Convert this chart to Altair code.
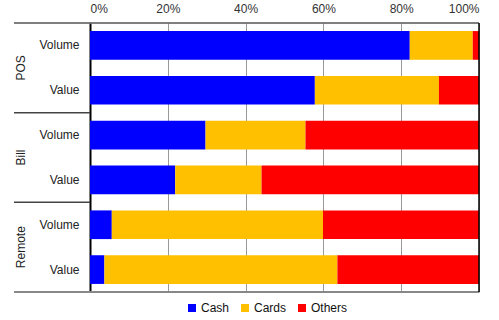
import altair as alt
import pandas as pd

# Share of each payment method (percent) per channel and measure
groups = ["POS", "POS", "Bill", "Bill", "Remote", "Remote"]
measures = ["Volume", "Value", "Volume", "Value", "Volume", "Value"]
cash = [82.2, 57.8, 29.7, 21.9, 5.6, 3.7]
cards = [16.2, 31.9, 25.7, 22.2, 54.3, 59.9]
others = [1.6, 10.3, 44.6, 55.9, 40.1, 36.4]

methods = ["Cash", "Cards", "Others"]
colors = ["#0000FF", "#FFC000", "#FF0000"]
x_ticks = [0, 0.2, 0.4, 0.6, 0.8, 1.0]

# Channel groups and the slot positions of their labels / dividers
group_names = ["POS", "Bill", "Remote"]
group_centres = [0.5, 1.5, 2.5]
dividers = [1, 2]

FONT = "Liberation Sans"
W, H = 389, 269

keys = [f"{g}|{m}" for g, m in zip(groups, measures)]

rows = []
for i, k in enumerate(keys):
    for j, (name, vals) in enumerate(zip(methods, [cash, cards, others])):
        rows.append({"key": k, "method": name, "share": vals[i], "order": j})
df = pd.DataFrame(rows)

group_df = pd.DataFrame({"group": group_names, "pos": group_centres})
div_df = pd.DataFrame({"pos": dividers})

y_scale = alt.Scale(domain=keys, paddingInner=0.36, paddingOuter=0.18)
slot_scale = alt.Scale(domain=[0, len(group_names)], reverse=True, nice=False, zero=False)

bars = alt.Chart(df).mark_bar().encode(
    y=alt.Y("key:N", scale=y_scale, title=None,
            axis=alt.Axis(labelExpr="split(datum.label, '|')[1]",
                          ticks=False, domainColor="#000000", domainWidth=2,
                          labelPadding=11, labelFontSize=12, labelFont=FONT,
                          labelColor="#222222")),
    x=alt.X("share:Q", stack="normalize", title=None,
            scale=alt.Scale(domain=[0, 1], nice=False),
            axis=alt.Axis(orient="top", values=x_ticks, format=".0%",
                          grid=True, gridColor="#999999", domain=False,
                          ticks=False, labelPadding=8, labelFontSize=12,
                          labelFont=FONT, labelColor="#333333")),
    color=alt.Color("method:N", scale=alt.Scale(domain=methods, range=colors),
                    legend=alt.Legend(orient="none", legendX=96, legendY=279,
                                      direction="horizontal", title=None,
                                      symbolType="square", symbolSize=64,
                                      symbolStrokeWidth=0, labelFontSize=12,
                                      labelFont=FONT, labelColor="#111111",
                                      labelOffset=3, columnPadding=9)),
    order=alt.Order("order:Q"),
)

group_labels = alt.Chart(group_df).mark_text(
    angle=270, fontSize=12, font=FONT, color="#222222",
    align="center", baseline="middle"
).encode(
    y=alt.Y("pos:Q", scale=slot_scale, axis=None),
    x=alt.value(-69),
    text="group:N",
)

separators = alt.Chart(div_df).mark_rule(color="#444444", strokeWidth=1.5).encode(
    y=alt.Y("pos:Q", scale=slot_scale, axis=None),
    x=alt.value(-76),
    x2=alt.value(0),
)

one = alt.Data(values=[{}])
top_line = alt.Chart(one).mark_rule(color="#555555", strokeWidth=1.5).encode(
    x=alt.value(-76), x2=alt.value(W), y=alt.value(0))
bottom_line = alt.Chart(one).mark_rule(color="#888888", strokeWidth=2).encode(
    x=alt.value(-76), x2=alt.value(W), y=alt.value(H))
right_line = alt.Chart(one).mark_rule(color="#000000", strokeWidth=1.5).encode(
    x=alt.value(W), y=alt.value(0), y2=alt.value(H))

annotations = alt.layer(group_labels, separators)

chart = alt.layer(bars, annotations, top_line, bottom_line, right_line).resolve_scale(
    y="independent"
).properties(
    width=W, height=H,
    autosize=alt.AutoSizeParams(type="none"),
    padding={"left": 90, "top": 23, "right": 20, "bottom": 28},
).configure_view(stroke=None).configure_axis(labelFont=FONT)

chart.save("out.html", embed_options={"renderer": "svg", "actions": False})
